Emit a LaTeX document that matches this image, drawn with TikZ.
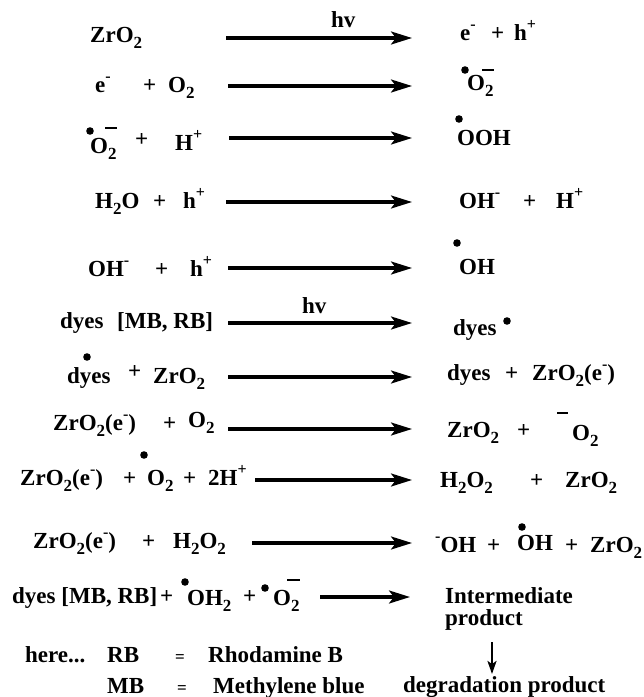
\documentclass[tikz,border=0pt]{standalone}
\usepackage{fontspec}
\setmainfont{Liberation Serif}
\usetikzlibrary{arrows.meta}
\newcommand\chsub[1]{\raisebox{-0.27em}{\fontsize{17}{17}\selectfont #1}}
\newcommand\chsup[1]{\raisebox{0.45em}{\fontsize{16}{16}\selectfont #1}}
\tikzset{
  txt/.style={anchor=base west, inner sep=0pt, font=\fontsize{23}{26}\selectfont\bfseries},
  eqs/.style={anchor=base west, inner sep=0pt, font=\fontsize{17}{20}\selectfont\bfseries},
  rxn/.style={line width=3.2pt, -{Stealth[length=21pt,width=13pt,inset=5pt]}},
  down/.style={line width=2.2pt, -{Stealth[length=13pt,width=9pt,inset=3pt]}},
  rad/.style={fill=black},
  bar/.style={line width=2.2pt}
}
\begin{document}
\begin{tikzpicture}[x=1pt,y=-1pt]
\useasboundingbox (0,0) rectangle (644,697);
% Row 1
\node[txt] (r1a) at (90,42) {ZrO\chsub{2}};
\coordinate (s1) at (226,38); \coordinate (e1) at (412,38);
\draw[rxn] (s1) -- (e1);
\node[txt] (hv1) at (331,27) {hv};
\node[txt] (r1b) at (460,40) {e\chsup{-}};
\node[txt] (r1c) at (491,40) {+};
\node[txt] (r1d) at (514,40) {h\chsup{+}};
% Row 2
\node[txt] (r2a) at (95,92) {e\chsup{-}};
\node[txt] (r2b) at (143,92) {+};
\node[txt] (r2c) at (168,92) {O\chsub{2}};
\coordinate (s2) at (228,86); \coordinate (e2) at (412,86);
\draw[rxn] (s2) -- (e2);
\node[txt] (r2d) at (467,90) {O\chsub{2}};
\fill[rad] (465,70) circle (3.8);
\draw[bar] (482,70) -- (494,70);
% Row 3
\fill[rad] (90,131) circle (3.8);
\node[txt] (r3a) at (90,153) {O\chsub{2}};
\draw[bar] (105,128) -- (117,128);
\node[txt] (r3b) at (135,146) {+};
\node[txt] (r3c) at (175,150) {H\chsup{+}};
\coordinate (s3) at (229,138); \coordinate (e3) at (412,138);
\draw[rxn] (s3) -- (e3);
\fill[rad] (459,119) circle (3.8);
\node[txt] (r3d) at (457,145) {OOH};
% Row 4
\node[txt] (r4a) at (95,208) {H\chsub{2}O};
\node[txt] (r4b) at (153,208) {+};
\node[txt] (r4c) at (183,208) {h\chsup{+}};
\coordinate (s4) at (226,202); \coordinate (e4) at (412,202);
\draw[rxn] (s4) -- (e4);
\node[txt] (r4d) at (459,208) {OH\chsup{-}};
\node[txt] (r4e) at (523,208) {+};
\node[txt] (r4f) at (556,208) {H\chsup{+}};
% Row 5
\node[txt] (r5a) at (88,276) {OH\chsup{-}};
\node[txt] (r5b) at (155,276) {+};
\node[txt] (r5c) at (190,276) {h\chsup{+}};
\coordinate (s5) at (228,268); \coordinate (e5) at (412,268);
\draw[rxn] (s5) -- (e5);
\fill[rad] (457,243) circle (3.8);
\node[txt] (r5d) at (459,274) {OH};
% Row 6
\node[txt] (r6a) at (60,328) {dyes};
\node[txt] (r6b) at (117,328) {[MB, RB]};
\node[txt] (hv6) at (302,313) {hv};
\coordinate (s6) at (228,323); \coordinate (e6) at (412,323);
\draw[rxn] (s6) -- (e6);
\node[txt] (r6c) at (453,335) {dyes};
\fill[rad] (507,321) circle (3.8);
% Row 7
\fill[rad] (87,357) circle (3.8);
\node[txt] (r7a) at (67,383) {dyes};
\node[txt] (r7b) at (128,378) {+};
\node[txt] (r7c) at (153,383) {ZrO\chsub{2}};
\coordinate (s7) at (228,377); \coordinate (e7) at (412,377);
\draw[rxn] (s7) -- (e7);
\node[txt] (r7d) at (447,380) {dyes};
\node[txt] (r7e) at (505,380) {+};
\node[txt] (r7f) at (532,380) {ZrO\chsub{2}(e\chsup{-})};
% Row 8
\node[txt] (r8a) at (53,430) {ZrO\chsub{2}(e\chsup{-})};
\node[txt] (r8b) at (163,430) {+};
\node[txt] (r8c) at (188,427) {O\chsub{2}};
\coordinate (s8) at (228,429); \coordinate (e8) at (412,429);
\draw[rxn] (s8) -- (e8);
\node[txt] (r8d) at (447,437) {ZrO\chsub{2}};
\node[txt] (r8e) at (517,437) {+};
\draw[bar] (557,413) -- (568,413);
\node[txt] (r8f) at (572,440) {O\chsub{2}};
% Row 9
\node[txt] (r9a) at (20,485) {ZrO\chsub{2}(e\chsup{-})};
\node[txt] (r9b) at (123,485) {+};
\fill[rad] (144,455) circle (3.8);
\node[txt] (r9c) at (147,485) {O\chsub{2}};
\node[txt] (r9d) at (183,485) {+};
\node[txt] (r9e) at (208,485) {2H\chsup{+}};
\coordinate (s9) at (255,480); \coordinate (e9) at (412,480);
\draw[rxn] (s9) -- (e9);
\node[txt] (r9f) at (440,487) {H\chsub{2}O\chsub{2}};
\node[txt] (r9g) at (530,487) {+};
\node[txt] (r9h) at (565,487) {ZrO\chsub{2}};
% Row 10
\node[txt] (r10a) at (33,548) {ZrO\chsub{2}(e\chsup{-})};
\node[txt] (r10b) at (142,548) {+};
\node[txt] (r10c) at (173,548) {H\chsub{2}O\chsub{2}};
\coordinate (s10) at (252,543); \coordinate (e10) at (412,543);
\draw[rxn] (s10) -- (e10);
\node[txt] (r10d) at (435,552) {\chsup{-}OH};
\node[txt] (r10e) at (487,552) {+};
\fill[rad] (522,527) circle (3.8);
\node[txt] (r10f) at (517,550) {OH};
\node[txt] (r10g) at (565,552) {+};
\node[txt] (r10h) at (590,552) {ZrO\chsub{2}};
% Row 11
\node[txt] (r11a) at (12,603) {dyes [MB, RB]};
\node[txt] (r11b) at (160,603) {+};
\fill[rad] (185,582) circle (3.8);
\node[txt] (r11c) at (187,605) {OH\chsub{2}};
\node[txt] (r11d) at (243,603) {+};
\fill[rad] (265,588) circle (3.8);
\draw[bar] (287,580) -- (300,580);
\node[txt] (r11e) at (273,605) {O\chsub{2}};
\coordinate (s11) at (320,597); \coordinate (e11) at (410,597);
\draw[rxn] (s11) -- (e11);
\node[txt] (int1) at (445,603) {Intermediate};
\node[txt] (int2) at (445,625) {product};
\coordinate (d1) at (492,642); \coordinate (d2) at (492,674);
\draw[down] (d1) -- (d2);
% Legend
\node[txt] (lg1) at (25,662) {here...};
\node[txt] (lg2) at (107,662) {RB};
\node[eqs] (lg3) at (175,662) {=};
\node[txt] (lg4) at (208,662) {Rhodamine B};
\node[txt] (lg5) at (107,693) {MB};
\node[eqs] (lg6) at (177,693) {=};
\node[txt] (lg7) at (213,693) {Methylene blue};
\node[txt] (deg) at (403,692) {degradation product};
\end{tikzpicture}
\end{document}
